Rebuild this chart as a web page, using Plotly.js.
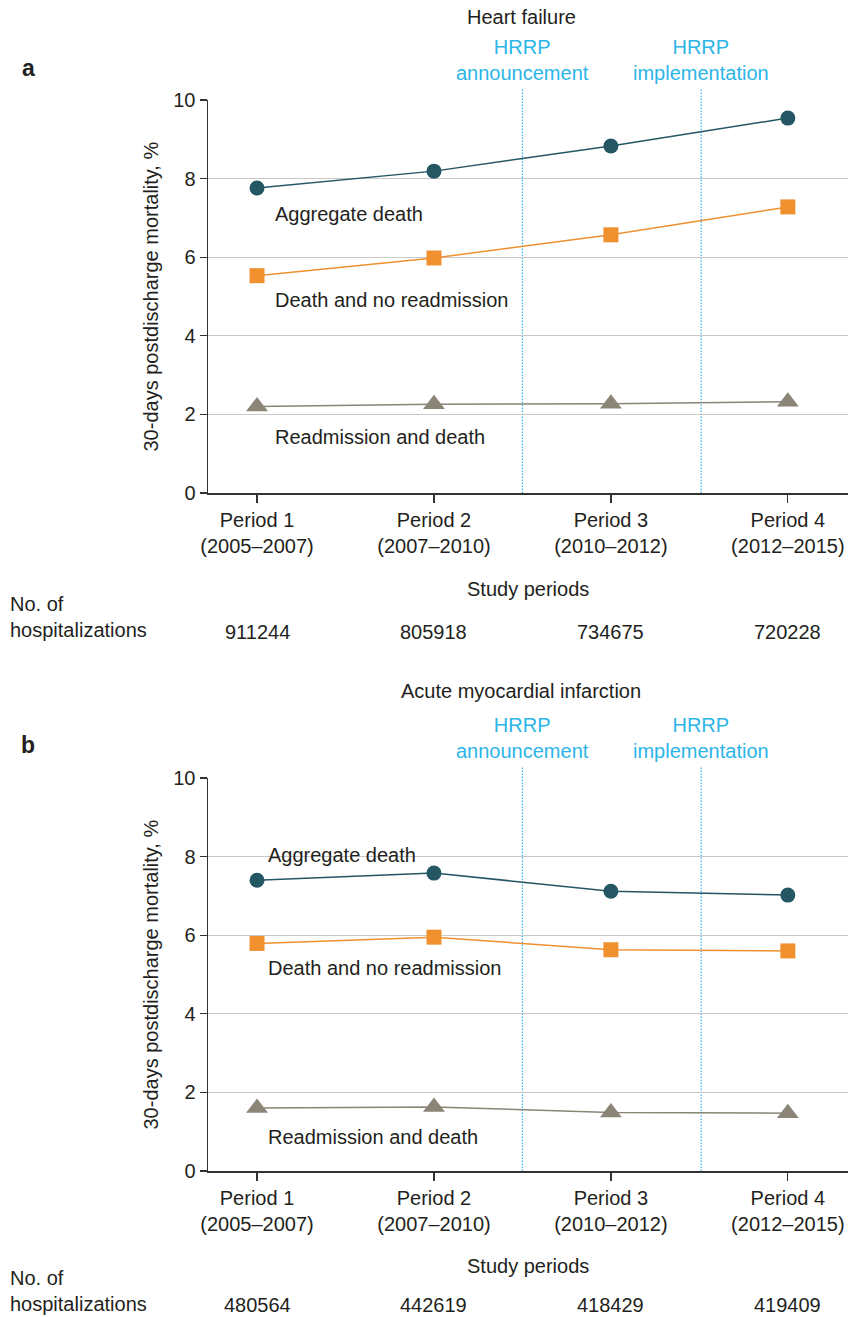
<!DOCTYPE html>
<html>
<head>
<meta charset="utf-8">
<script src="https://cdn.plot.ly/plotly-3.0.1.min.js"></script>
<style>html,body{margin:0;padding:0;background:#fff}#chart{width:850px;height:1317px}</style>
</head>
<body>
<div id="chart"></div>
<script>
// ---- data ----
const periods = ["Period 1", "Period 2", "Period 3", "Period 4"];
const periodYears = ["(2005–2007)", "(2007–2010)", "(2010–2012)", "(2012–2015)"];
const seriesNames = ["Aggregate death", "Death and no readmission", "Readmission and death"];

const hfAggregate = [7.76, 8.19, 8.83, 9.54];
const hfDeathNoReadm = [5.53, 5.98, 6.57, 7.28];
const hfReadmDeath = [2.20, 2.26, 2.27, 2.32];
const hfHospitalizations = ["911244", "805918", "734675", "720228"];

const amiAggregate = [7.40, 7.58, 7.12, 7.02];
const amiDeathNoReadm = [5.79, 5.95, 5.63, 5.60];
const amiReadmDeath = [1.60, 1.63, 1.49, 1.47];
const amiHospitalizations = ["480564", "442619", "418429", "419409"];

const panelTitles = ["Heart failure", "Acute myocardial infarction"];
const panelLetters = ["a", "b"];
const hrrpLabels = ["HRRP<br>announcement", "HRRP<br>implementation"];
const hrrpPositions = [1.5, 2.51];

// ---- styling ----
const W = 850, H = 1317;
const FONT = "Liberation Sans, Arial, Helvetica, sans-serif";
const FS = 20;
const TXT = "#231f20";
const BLUE = "#2cb5e8";
const colAgg = "#245664", colDeath = "#f0902f", colReadm = "#8a8577";
const py = p => 1 - p / H;
const xIdx = [0, 1, 2, 3];
const tickText = periods.map((p, i) => p + "<br>" + periodYears[i]);

function traces(xa, ya, agg, dnr, rd) {
  return [
    {x: xIdx, y: agg, xaxis: xa, yaxis: ya, mode: "lines+markers", name: seriesNames[0],
     line: {color: colAgg, width: 1.5}, marker: {symbol: "circle", size: 15, color: colAgg}},
    {x: xIdx, y: dnr, xaxis: xa, yaxis: ya, mode: "lines+markers", name: seriesNames[1],
     line: {color: colDeath, width: 1.5}, marker: {symbol: "square", size: 15, color: colDeath}},
    {x: xIdx, y: rd, xaxis: xa, yaxis: ya, mode: "lines+markers", name: seriesNames[2],
     line: {color: colReadm, width: 1.5}, marker: {symbol: "triangle-up", size: 19, color: colReadm}}
  ];
}

const data = [
  ...traces("x", "y", hfAggregate, hfDeathNoReadm, hfReadmDeath),
  ...traces("x2", "y2", amiAggregate, amiDeathNoReadm, amiReadmDeath)
];

const xDomain = [208 / W, 848 / W];
function xaxis() {
  return {
    domain: xDomain, range: [-0.277, 3.34], tickmode: "array", tickvals: xIdx, ticktext: tickText,
    showline: true, linecolor: "#333", linewidth: 1.5, ticks: "outside", ticklen: 8, tickcolor: "#333",
    tickwidth: 1.2, showgrid: false, zeroline: false, fixedrange: true,
    tickfont: {family: FONT, size: FS, color: TXT}
  };
}
function yaxis(top, bottom, anchor) {
  return {
    domain: [py(bottom), py(top)], range: [0, 10], tickvals: [0, 2, 4, 6, 8, 10], anchor: anchor,
    showline: true, linecolor: "#333", linewidth: 1.5, ticks: "outside", ticklen: 7, tickcolor: "#333",
    tickwidth: 1.2, showgrid: true, gridcolor: "#c8c8c8", gridwidth: 1, zeroline: false,
    tickfont: {family: FONT, size: FS, color: TXT}
  };
}

const panels = [
  {top: 100, bottom: 493, lineTop: 89, xref: "x", yref: "y", title: 17, hrrp1: 48, hrrp2: 73, letter: 68,
   study: 589, no1: 603, no2: 630, num: 632, hosp: hfHospitalizations,
   labels: [[273, 214], [273, 300], [273, 437]]},
  {top: 778, bottom: 1171, lineTop: 767, xref: "x2", yref: "y2", title: 691, hrrp1: 725, hrrp2: 750, letter: 745,
   study: 1266, no1: 1279, no2: 1303, num: 1305, hosp: amiHospitalizations,
   labels: [[266, 855], [266, 968], [266, 1137]]}
];

const annotations = [];
const shapes = [];
panels.forEach((p, k) => {
  const base = {showarrow: false, font: {family: FONT, size: FS, color: TXT}};
  annotations.push({...base, xref: "paper", yref: "paper", x: 521 / W, y: py(p.title), xanchor: "center", yanchor: "middle", text: panelTitles[k]});
  annotations.push({...base, xref: "paper", yref: "paper", x: 28 / W, y: py(p.letter), xanchor: "center", yanchor: "middle", text: "<b>" + panelLetters[k] + "</b>", font: {family: FONT, size: 23, color: TXT}});
  hrrpPositions.forEach((hx, j) => {
    annotations.push({...base, xref: p.xref, yref: "paper", x: hx, y: py((p.hrrp1 + p.hrrp2) / 2), xanchor: "center", yanchor: "middle",
      text: hrrpLabels[j], font: {family: FONT, size: FS, color: BLUE}});
    shapes.push({type: "line", xref: p.xref, yref: "paper", x0: hx, x1: hx, y0: py(p.bottom), y1: py(p.lineTop),
      line: {color: BLUE, width: 1.2, dash: "1.5px,1.5px"}, layer: "below"});
  });
  annotations.push({...base, xref: "paper", yref: "paper", x: 150 / W, y: py((p.top + p.bottom) / 2), xanchor: "center", yanchor: "middle",
    textangle: -90, text: "30-days postdischarge mortality, %"});
  annotations.push({...base, xref: "paper", yref: "paper", x: 528 / W, y: py(p.study), xanchor: "center", yanchor: "middle", text: "Study periods"});
  annotations.push({...base, xref: "paper", yref: "paper", x: 8 / W, y: py((p.no1 + p.no2) / 2), xanchor: "left", yanchor: "middle", align: "left",
    text: "No. of<br>hospitalizations"});
  p.hosp.forEach((h, i) => {
    annotations.push({...base, xref: p.xref, yref: "paper", x: xIdx[i], y: py(p.num), xanchor: "center", yanchor: "middle", text: h});
  });
  p.labels.forEach((lab, i) => {
    annotations.push({...base, xref: "paper", yref: "paper", x: lab[0] / W, y: py(lab[1]), xanchor: "left", yanchor: "middle", text: seriesNames[i]});
  });
});

const layout = {
  width: W, height: H, margin: {l: 0, r: 0, t: 0, b: 0},
  paper_bgcolor: "#fff", plot_bgcolor: "#fff", showlegend: false,
  font: {family: FONT, size: FS, color: TXT},
  xaxis: {...xaxis(), anchor: "y"},
  yaxis: yaxis(panels[0].top, panels[0].bottom, "x"),
  xaxis2: {...xaxis(), anchor: "y2"},
  yaxis2: yaxis(panels[1].top, panels[1].bottom, "x2"),
  annotations: annotations, shapes: shapes
};

Plotly.newPlot("chart", data, layout, {displayModeBar: false, staticPlot: true});
</script>
</body>
</html>
